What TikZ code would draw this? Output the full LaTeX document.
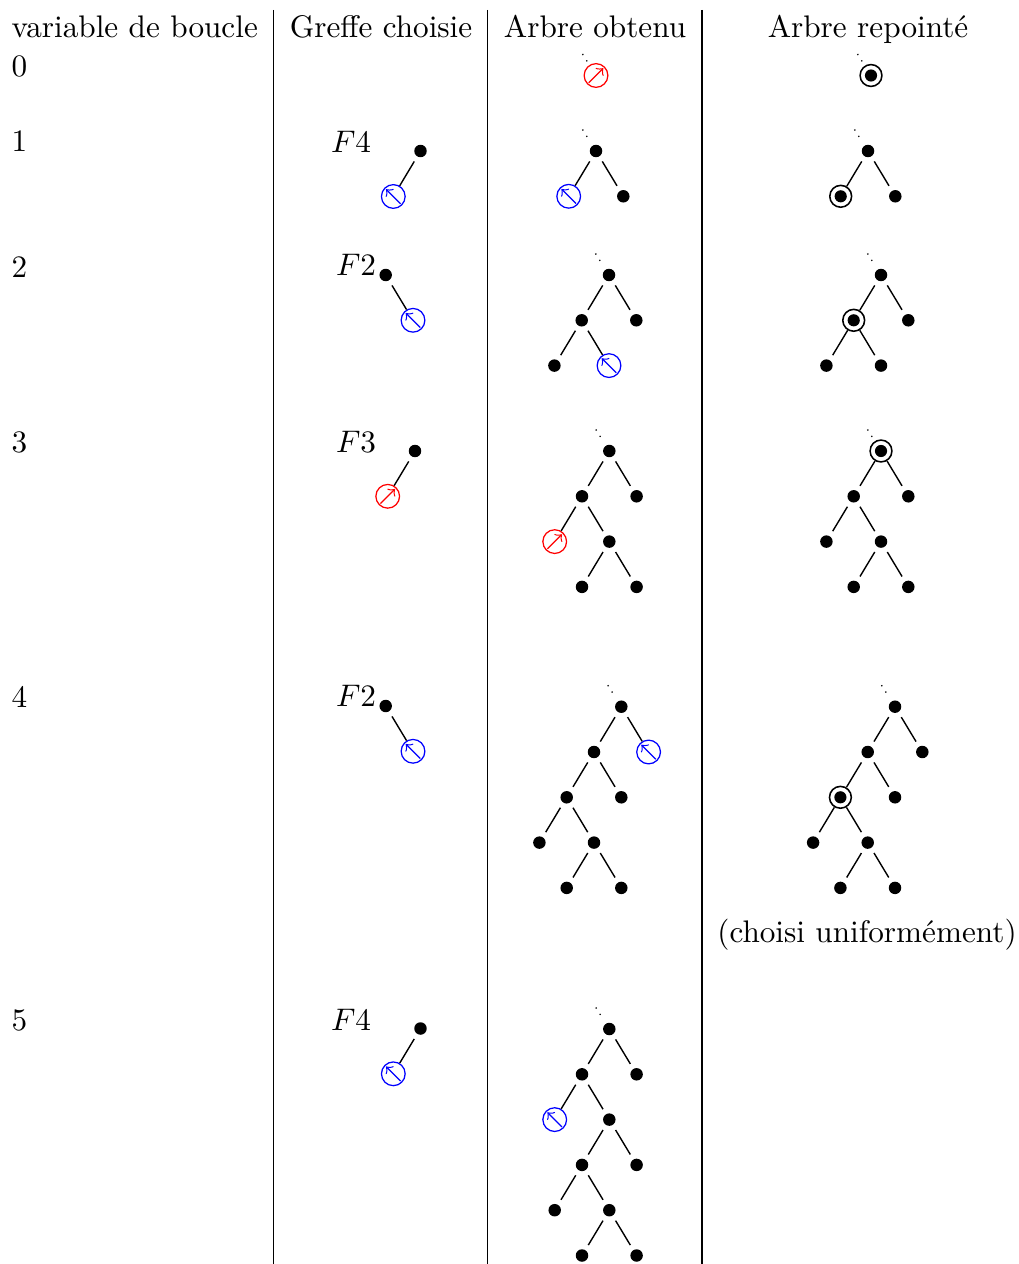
\documentclass[tikz,border=0pt]{standalone}
\begin{document}
\begin{tikzpicture}[x=0.3205pt,y=-0.3205pt,
  bn/.style={circle,fill,inner sep=0pt,minimum size=4pt,outer sep=1.9pt},
  cn/.style={circle,draw,line width=0.5pt,inner sep=0pt,minimum size=7pt,
    path picture={\fill (path picture bounding box.center) circle (1.95pt);}},
  bg/.style={circle,draw=blue,inner sep=0pt,minimum size=7.6pt,
    path picture={\draw[blue,->] ([shift={(-45:3.3pt)}]path picture bounding box.center) -- ([shift={(135:3.3pt)}]path picture bounding box.center);}},
  rg/.style={circle,draw=red,inner sep=0pt,minimum size=7.6pt,
    path picture={\draw[red,->] ([shift={(225:3.3pt)}]path picture bounding box.center) -- ([shift={(45:3.3pt)}]path picture bounding box.center);}},
  ed/.style={line width=0.45pt},
  dt/.style={dotted},
  lab/.style={anchor=base,inner sep=0pt},
  labw/.style={anchor=base west,inner sep=0pt},
  rule/.style={line width=0.4pt}
]
\useasboundingbox (0,0) rectangle (1018,1264);

% table rules
\draw[rule] (273.5,10) -- (273.5,1264);
\draw[rule] (487.5,10) -- (487.5,1264);
\draw[rule] (702,10) -- (702,1264);

% headers
\node[labw] (h1) at (11,37.5) {variable de boucle};
\node[lab] (h2) at (381,37.5) {Greffe choisie};
\node[lab] (h3) at (595,37.5) {Arbre obtenu};
\node[lab] (h4) at (868,37.5) {Arbre repointé};

% loop variable
\node[labw] (n0) at (11,76.5) {0};
\node[labw] (n1) at (11,152) {1};
\node[labw] (n2) at (11,277.5) {2};
\node[labw] (n3) at (11,452) {3};
\node[labw] (n4) at (11,707) {4};
\node[labw] (n5) at (11,1030) {5};

% graft labels
\node[lab] (f1) at (351,153) {$F4$};
\node[lab] (f2) at (356,276) {$F2$};
\node[lab] (f3) at (356,452) {$F3$};
\node[lab] (f4) at (356,706) {$F2$};
\node[lab] (f5) at (351,1030) {$F4$};

\node[lab] (cu) at (867,942) {(choisi uniformément)};

% ---------- row 0
\node[rg] (o0a) at (596,75.5) {};
\coordinate (o0p) at (582.5,54);
\draw[dt] (o0p) -- (o0a);
\node[cn] (r0a) at (871,75.5) {};
\coordinate (r0p) at (857.5,54);
\draw[dt] (r0p) -- (r0a);

% ---------- row 1
\node[bn] (g1a) at (420.5,151) {};
\node[bg] (g1b) at (393.3,196.5) {};
\draw[ed] (g1a) -- (g1b);

\node[bn] (o1a) at (596,151) {};
\node[bg] (o1b) at (568.7,196.3) {};
\node[bn] (o1c) at (623.3,196.3) {};
\coordinate (o1p) at (582.5,129.5);
\draw[dt] (o1p) -- (o1a);
\draw[ed] (o1a) -- (o1b);
\draw[ed] (o1a) -- (o1c);

\node[bn] (r1a) at (868,151) {};
\node[cn] (r1b) at (840.7,196.3) {};
\node[bn] (r1c) at (895.3,196.3) {};
\coordinate (r1p) at (854.5,129.5);
\draw[dt] (r1p) -- (r1a);
\draw[ed] (r1a) -- (r1b);
\draw[ed] (r1a) -- (r1c);

% ---------- row 2
\node[bn] (g2a) at (385.7,275) {};
\node[bg] (g2b) at (413,320.3) {};
\draw[ed] (g2a) -- (g2b);

\node[bn] (o2a) at (609,275) {};
\node[bn] (o2b) at (581.7,320.3) {};
\node[bn] (o2c) at (636.3,320.3) {};
\node[bn] (o2d) at (554.4,365.6) {};
\node[bg] (o2e) at (609,365.6) {};
\coordinate (o2p) at (595.5,253.5);
\draw[dt] (o2p) -- (o2a);
\draw[ed] (o2a) -- (o2b);
\draw[ed] (o2a) -- (o2c);
\draw[ed] (o2b) -- (o2d);
\draw[ed] (o2b) -- (o2e);

\node[bn] (r2a) at (881,275) {};
\node[cn] (r2b) at (853.7,320.3) {};
\node[bn] (r2c) at (908.3,320.3) {};
\node[bn] (r2d) at (826.4,365.6) {};
\node[bn] (r2e) at (881,365.6) {};
\coordinate (r2p) at (867.5,253.5);
\draw[dt] (r2p) -- (r2a);
\draw[ed] (r2a) -- (r2b);
\draw[ed] (r2a) -- (r2c);
\draw[ed] (r2b) -- (r2d);
\draw[ed] (r2b) -- (r2e);

% ---------- row 3
\node[bn] (g3a) at (415,451) {};
\node[rg] (g3b) at (387.7,496.3) {};
\draw[ed] (g3a) -- (g3b);

\node[bn] (o3a) at (609.3,451) {};
\node[bn] (o3b) at (582,496.3) {};
\node[bn] (o3c) at (636.6,496.3) {};
\node[rg] (o3d) at (554.7,541.6) {};
\node[bn] (o3e) at (609.3,541.6) {};
\node[bn] (o3f) at (582,586.9) {};
\node[bn] (o3g) at (636.6,586.9) {};
\coordinate (o3p) at (595.8,429.5);
\draw[dt] (o3p) -- (o3a);
\draw[ed] (o3a) -- (o3b);
\draw[ed] (o3a) -- (o3c);
\draw[ed] (o3b) -- (o3d);
\draw[ed] (o3b) -- (o3e);
\draw[ed] (o3e) -- (o3f);
\draw[ed] (o3e) -- (o3g);

\node[cn] (r3a) at (881,451) {};
\node[bn] (r3b) at (853.7,496.3) {};
\node[bn] (r3c) at (908.3,496.3) {};
\node[bn] (r3d) at (826.4,541.6) {};
\node[bn] (r3e) at (881,541.6) {};
\node[bn] (r3f) at (853.7,586.9) {};
\node[bn] (r3g) at (908.3,586.9) {};
\coordinate (r3p) at (867.5,429.5);
\draw[dt] (r3p) -- (r3a);
\draw[ed] (r3a) -- (r3b);
\draw[ed] (r3a) -- (r3c);
\draw[ed] (r3b) -- (r3d);
\draw[ed] (r3b) -- (r3e);
\draw[ed] (r3e) -- (r3f);
\draw[ed] (r3e) -- (r3g);

% ---------- row 4
\node[bn] (g4a) at (385.7,706) {};
\node[bg] (g4b) at (413,751.3) {};
\draw[ed] (g4a) -- (g4b);

\node[bn] (o4a) at (621.3,706.7) {};
\node[bn] (o4b) at (594,752) {};
\node[bg] (o4c) at (648.6,752) {};
\node[bn] (o4d) at (566.7,797.3) {};
\node[bn] (o4e) at (621.3,797.3) {};
\node[bn] (o4f) at (539.4,842.6) {};
\node[bn] (o4g) at (594,842.6) {};
\node[bn] (o4h) at (566.7,887.9) {};
\node[bn] (o4i) at (621.3,887.9) {};
\coordinate (o4p) at (607.8,685.2);
\draw[dt] (o4p) -- (o4a);
\draw[ed] (o4a) -- (o4b);
\draw[ed] (o4a) -- (o4c);
\draw[ed] (o4b) -- (o4d);
\draw[ed] (o4b) -- (o4e);
\draw[ed] (o4d) -- (o4f);
\draw[ed] (o4d) -- (o4g);
\draw[ed] (o4g) -- (o4h);
\draw[ed] (o4g) -- (o4i);

\node[bn] (r4a) at (895,706.7) {};
\node[bn] (r4b) at (867.7,752) {};
\node[bn] (r4c) at (922.3,752) {};
\node[cn] (r4d) at (840.4,797.3) {};
\node[bn] (r4e) at (895,797.3) {};
\node[bn] (r4f) at (813.1,842.6) {};
\node[bn] (r4g) at (867.7,842.6) {};
\node[bn] (r4h) at (840.4,887.9) {};
\node[bn] (r4i) at (895,887.9) {};
\coordinate (r4p) at (881.5,685.2);
\draw[dt] (r4p) -- (r4a);
\draw[ed] (r4a) -- (r4b);
\draw[ed] (r4a) -- (r4c);
\draw[ed] (r4b) -- (r4d);
\draw[ed] (r4b) -- (r4e);
\draw[ed] (r4d) -- (r4f);
\draw[ed] (r4d) -- (r4g);
\draw[ed] (r4g) -- (r4h);
\draw[ed] (r4g) -- (r4i);

% ---------- row 5
\node[bn] (g5a) at (420.5,1028.5) {};
\node[bg] (g5b) at (393.3,1073.8) {};
\draw[ed] (g5a) -- (g5b);

\node[bn] (o5a) at (609.3,1029) {};
\node[bn] (o5b) at (582,1074.3) {};
\node[bn] (o5c) at (636.6,1074.3) {};
\node[bg] (o5d) at (554.7,1119.6) {};
\node[bn] (o5e) at (609.3,1119.6) {};
\node[bn] (o5f) at (582,1164.9) {};
\node[bn] (o5g) at (636.6,1164.9) {};
\node[bn] (o5h) at (554.7,1210.2) {};
\node[bn] (o5i) at (609.3,1210.2) {};
\node[bn] (o5j) at (582,1255.5) {};
\node[bn] (o5k) at (636.6,1255.5) {};
\coordinate (o5p) at (595.8,1007.5);
\draw[dt] (o5p) -- (o5a);
\draw[ed] (o5a) -- (o5b);
\draw[ed] (o5a) -- (o5c);
\draw[ed] (o5b) -- (o5d);
\draw[ed] (o5b) -- (o5e);
\draw[ed] (o5e) -- (o5f);
\draw[ed] (o5e) -- (o5g);
\draw[ed] (o5f) -- (o5h);
\draw[ed] (o5f) -- (o5i);
\draw[ed] (o5i) -- (o5j);
\draw[ed] (o5i) -- (o5k);
\end{tikzpicture}
\end{document}
